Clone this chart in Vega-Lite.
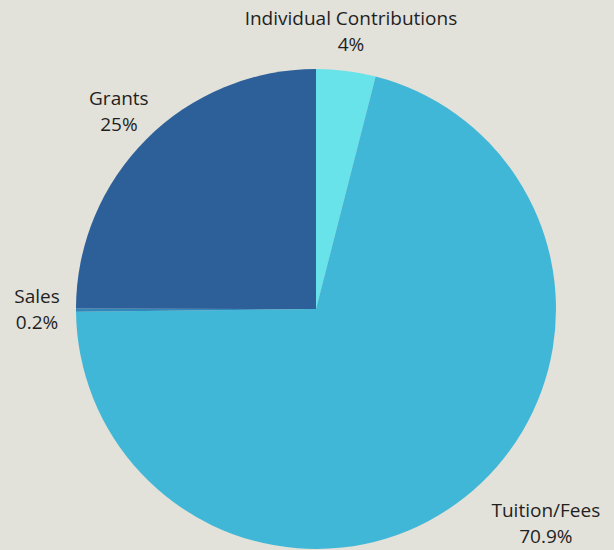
{
  "$schema": "https://vega.github.io/schema/vega-lite/v6.json",
  "width": 600,
  "height": 500,
  "autosize": {"type": "none"},
  "padding": {"left": 16, "top": 59, "right": 0, "bottom": 0},
  "background": "#E2E1DA",
  "config": {"view": {"stroke": null}},
  "data": {
    "values": [
      {"idx": 1, "source": "Individual Contributions", "value": 4, "pct": "4%"},
      {"idx": 2, "source": "Tuition/Fees", "value": 70.9, "pct": "70.9%"},
      {"idx": 3, "source": "Sales", "value": 0.2, "pct": "0.2%"},
      {"idx": 4, "source": "Grants", "value": 25, "pct": "25%"}
    ]
  },
  "encoding": {
    "theta": {"field": "value", "type": "quantitative", "stack": true},
    "order": {"field": "idx", "type": "quantitative"}
  },
  "layer": [
    {
      "mark": {"type": "arc", "radius": 240},
      "encoding": {
        "color": {
          "field": "source",
          "type": "nominal",
          "scale": {
            "domain": ["Individual Contributions", "Tuition/Fees", "Sales", "Grants"],
            "range": ["#67E3E9", "#41B7D7", "#2F88B9", "#2D5F98"]
          },
          "legend": null
        }
      }
    },
    {
      "mark": {"type": "text", "radius": 279, "dy": -13, "font": "Open Sans", "fontSize": 19, "color": "#1f1f1f"},
      "encoding": {"text": {"condition": {"test": "datum.source === 'Tuition/Fees'", "value": ""}, "field": "source"}}
    },
    {
      "mark": {"type": "text", "radius": 279, "dy": 13, "font": "Open Sans", "fontSize": 19, "color": "#1f1f1f"},
      "encoding": {"text": {"condition": {"test": "datum.source === 'Tuition/Fees'", "value": ""}, "field": "pct"}}
    },
    {
      "mark": {"type": "text", "radius": 280, "dx": 57, "dy": -18, "font": "Open Sans", "fontSize": 19, "color": "#1f1f1f"},
      "encoding": {"text": {"condition": {"test": "datum.source !== 'Tuition/Fees'", "value": ""}, "field": "source"}}
    },
    {
      "mark": {"type": "text", "radius": 280, "dx": 57, "dy": 8, "font": "Open Sans", "fontSize": 19, "color": "#1f1f1f"},
      "encoding": {"text": {"condition": {"test": "datum.source !== 'Tuition/Fees'", "value": ""}, "field": "pct"}}
    }
  ]
}
